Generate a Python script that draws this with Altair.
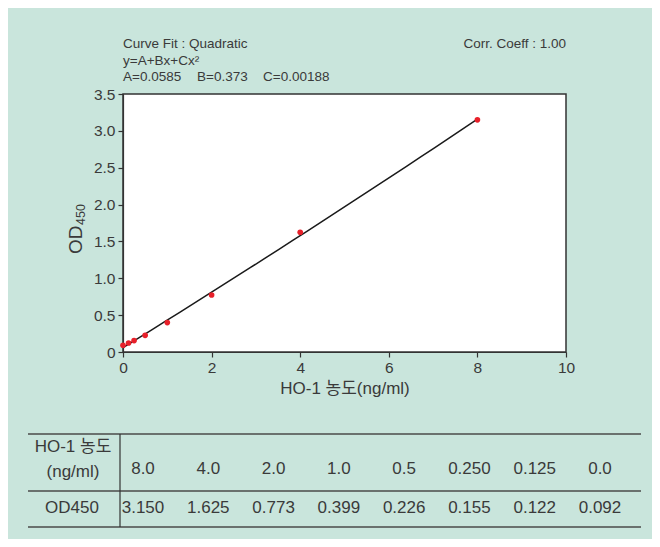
import altair as alt
import pandas as pd

# ---- data ----
conc = [8.0, 4.0, 2.0, 1.0, 0.5, 0.25, 0.125, 0.0]
od = [3.150, 1.625, 0.773, 0.399, 0.226, 0.155, 0.122, 0.092]
conc_labels = ["8.0", "4.0", "2.0", "1.0", "0.5", "0.250", "0.125", "0.0"]
od_labels = ["3.150", "1.625", "0.773", "0.399", "0.226", "0.155", "0.122", "0.092"]
x_ticks = [0, 2, 4, 6, 8, 10]
y_ticks = [0, 0.5, 1, 1.5, 2, 2.5, 3, 3.5]

FONT = "Liberation Sans, Noto Sans CJK KR, sans-serif"
TXT = "#3a3a3a"
BG = "#c9e5dc"

pts = pd.DataFrame({"conc": conc, "od": od})
tbl = pd.DataFrame({"col": list(range(len(conc))), "c": conc_labels, "o": od_labels})
one = alt.Data(values=[{}])

xs = alt.Scale(domain=[0, 10], nice=False)
ys = alt.Scale(domain=[0, 3.5], nice=False)

x_axis = alt.Axis(values=x_ticks, format="d", title="HO-1 농도(ng/ml)",
                  titleFontSize=17, titlePadding=5, labelOverlap=False, labelFlush=False)
y_axis = alt.Axis(values=y_ticks, title=None, labelOverlap=False, tickCount=8,
                  labelExpr="datum.value == 0 ? '0' : format(datum.value, '.1f')")

line = alt.Chart(pts).transform_regression(
    "conc", "od", method="poly", order=2
).mark_line(color="#1a1a1a", strokeWidth=1.5).encode(
    x=alt.X("conc:Q", scale=xs, axis=x_axis),
    y=alt.Y("od:Q", scale=ys, axis=y_axis),
)

points = alt.Chart(pts).mark_circle(color="#e8202a", size=32, opacity=1).encode(
    x=alt.X("conc:Q", scale=xs, axis=x_axis),
    y=alt.Y("od:Q", scale=ys, axis=y_axis),
)

def note(text, x, y, align="left", size=13.5, angle=0, baseline="middle"):
    return alt.Chart(one).mark_text(
        text=text, align=align, baseline=baseline, font=FONT, fontSize=size,
        color=TXT, angle=angle
    ).encode(x=alt.value(x), y=alt.value(y))

notes = [
    note("Curve Fit : Quadratic", 0, -50),
    note("y=A+Bx+Cx²", 0, -33),
    note("A=0.0585", 0, -17),
    note("B=0.373", 74, -17),
    note("C=0.00188", 140, -17),
    note("Corr. Coeff : 1.00", 443, -50, align="right"),
    # rotated y-axis title "OD" with subscript "450"
    note("OD", -47, 160, size=19, angle=270),
    note("450", -42, 131, size=12.5, angle=270),
]

main = alt.layer(line, points, *notes)

tx = alt.Scale(domain=[0, 7], range=[20, 477])

row1 = alt.Chart(tbl).mark_text(font=FONT, fontSize=17, color=TXT, baseline="middle").encode(
    x=alt.X("col:Q", scale=tx, axis=None), y=alt.value(375), text="c:N")
row2 = alt.Chart(tbl).mark_text(font=FONT, fontSize=17, color=TXT, baseline="middle").encode(
    x=alt.X("col:Q", scale=tx, axis=None), y=alt.value(414), text="o:N")

def cell(text, x, y):
    return alt.Chart(one).mark_text(
        text=text, align="center", baseline="middle", font=FONT, fontSize=17, color=TXT
    ).encode(x=alt.value(x), y=alt.value(y))

def hrule(y):
    return alt.Chart(one).mark_rule(color="#4a4a4a", strokeWidth=1.5).encode(
        x=alt.value(-95), x2=alt.value(518), y=alt.value(y))

vrule = alt.Chart(one).mark_rule(color="#333", strokeWidth=1.2).encode(
    x=alt.value(-3), y=alt.value(340), y2=alt.value(433))

table = alt.layer(
    hrule(340), hrule(397), hrule(433), vrule,
    cell("HO-1 농도", -50, 353), cell("(ng/ml)", -50, 378), cell("OD450", -51, 414),
    row1, row2,
)

chart = alt.layer(main, table).resolve_scale(x="independent", y="independent").properties(
    width=443, height=258,
    padding={"left": 115, "top": 86, "right": 86, "bottom": 187},
    autosize=alt.AutoSizeParams(type="none"),
    background=BG,
).configure_view(
    stroke="#333", strokeWidth=1.5, fill="white"
).configure_axis(
    grid=False, labelFont=FONT, titleFont=FONT, labelFontSize=15.5, labelColor=TXT,
    titleColor=TXT, titleFontWeight="normal", tickColor="#333", domainColor="#333",
    tickSize=5, labelPadding=3, domainWidth=1.2, tickWidth=1.2, labelOverlap=False,
    labelFlush=False,
)

chart.save("out.html", embed_options={"renderer": "svg", "actions": False})
